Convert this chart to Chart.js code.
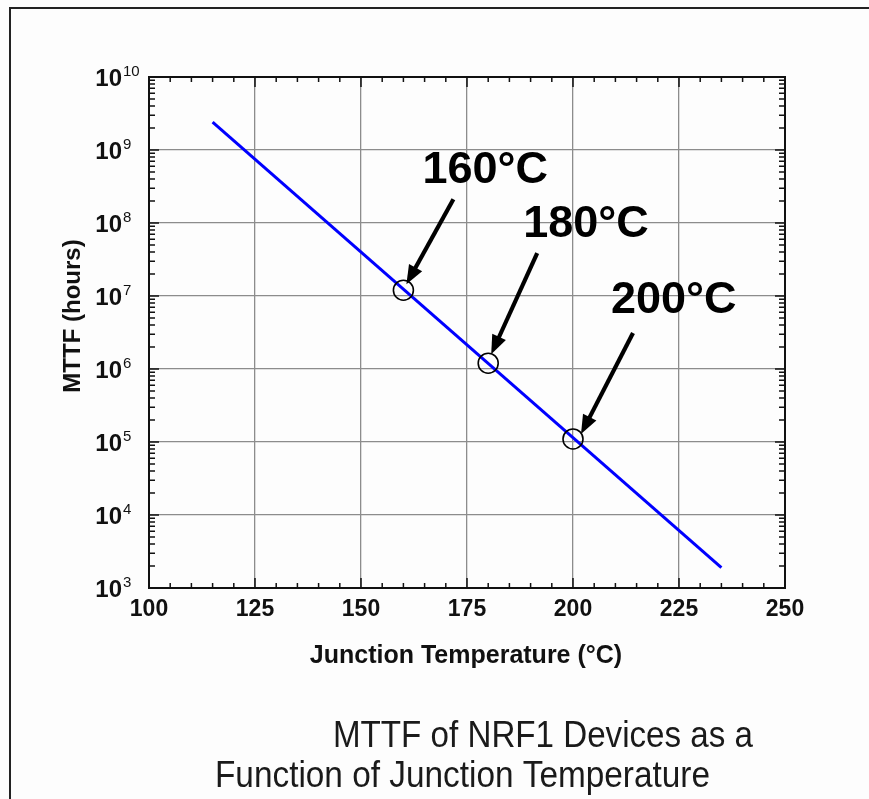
<!DOCTYPE html>
<html>
<head>
<meta charset="utf-8">
<title>MTTF of NRF1 Devices</title>
<script src="https://cdn.jsdelivr.net/npm/chart.js@4.4.1/dist/chart.umd.min.js"></script>
<style>
  html, body { margin: 0; padding: 0; background: #fdfdfd; }
  canvas { display: block; }
</style>
</head>
<body>
<canvas id="mttfChart" width="869" height="799"></canvas>
<script>
// MTTF fit line (junction temperature in °C, MTTF in hours)
const fitTemp = [115, 235];
const fitMttf = [2.4e9, 1.9e3];

// marked operating points
const markTemp = [160, 180, 200];
const markMttf = [1.2e7, 1.2e6, 1.1e5];
const markLabels = ['160°C', '180°C', '200°C'];

// axis ticks
const tempTicks = [100, 125, 150, 175, 200, 225, 250];
const mttfTicks = [1e3, 1e4, 1e5, 1e6, 1e7, 1e8, 1e9, 1e10];

const FONT = '"Liberation Sans", Arial, Helvetica, sans-serif';

// label/arrow offsets from each marker centre: [textDx, textDy, tailDx, tailDy, tipDx, tipDy]
const callouts = [
    [19, -107, 50, -91, 3, -6],
    [35, -126, 49, -110, 3, -9],
    [38, -126, 60, -106, 8, -5]
];

function drawArrow(ctx, x0, y0, x1, y1) {
    const ang = Math.atan2(y1 - y0, x1 - x0);
    const headLen = 19, headHalf = 7.5;
    const bx = x1 - headLen * Math.cos(ang);
    const by = y1 - headLen * Math.sin(ang);
    ctx.beginPath();
    ctx.moveTo(x0, y0);
    ctx.lineTo(bx + 2 * Math.cos(ang), by + 2 * Math.sin(ang));
    ctx.lineWidth = 4.2;
    ctx.lineCap = 'butt';
    ctx.stroke();
    ctx.beginPath();
    ctx.moveTo(x1, y1);
    ctx.lineTo(bx - headHalf * Math.sin(ang), by + headHalf * Math.cos(ang));
    ctx.lineTo(bx + headHalf * Math.sin(ang), by - headHalf * Math.cos(ang));
    ctx.closePath();
    ctx.fill();
}

const decor = {
    id: 'decor',
    beforeDraw(chart) {
        const ctx = chart.ctx;
        ctx.save();
        ctx.fillStyle = '#fdfdfd';
        ctx.fillRect(0, 0, chart.width, chart.height);
        // page frame (top and left edges)
        ctx.strokeStyle = '#222';
        ctx.lineWidth = 2;
        ctx.beginPath();
        ctx.moveTo(10, chart.height);
        ctx.lineTo(10, 8);
        ctx.lineTo(chart.width, 8);
        ctx.stroke();
        ctx.restore();
    },
    afterDraw(chart) {
        const { ctx, chartArea: a, scales: { x, y } } = chart;
        ctx.save();
        ctx.strokeStyle = '#111';
        ctx.fillStyle = '#111';
        ctx.lineWidth = 1.5;

        // inward tick marks, x every 5 degrees
        ctx.beginPath();
        for (let t = x.min; t <= x.max; t += 5) {
            const px = x.getPixelForValue(t);
            const len = t % 25 === 0 ? 10 : 5;
            ctx.moveTo(px, a.bottom); ctx.lineTo(px, a.bottom - len);
            ctx.moveTo(px, a.top); ctx.lineTo(px, a.top + len);
        }
        // log minor ticks on y
        mttfTicks.forEach((d, i) => {
            const last = i === mttfTicks.length - 1;
            for (let k = 1; k <= (last ? 1 : 9); k++) {
                const py = y.getPixelForValue(k * d);
                const len = k === 1 ? 10 : 6;
                ctx.moveTo(a.left, py); ctx.lineTo(a.left + len, py);
                ctx.moveTo(a.right, py); ctx.lineTo(a.right - len, py);
            }
        });
        ctx.stroke();

        // plot frame
        ctx.lineWidth = 2;
        ctx.strokeRect(a.left, a.top, a.right - a.left, a.bottom - a.top);

        // x tick labels
        ctx.font = 'bold 23px ' + FONT;
        ctx.textAlign = 'center';
        ctx.textBaseline = 'middle';
        tempTicks.forEach(t => ctx.fillText(String(t), x.getPixelForValue(t), 610));

        // y tick labels as powers of ten
        ctx.textBaseline = 'alphabetic';
        mttfTicks.forEach(v => {
            const py = y.getPixelForValue(v);
            ctx.font = 'bold 24px ' + FONT;
            ctx.textAlign = 'right';
            ctx.fillText('10', 122, py + 9);
            ctx.font = '15px ' + FONT;
            ctx.textAlign = 'left';
            ctx.fillText(String(Math.round(Math.log10(v))), 123, py - 1);
        });

        // axis titles
        ctx.font = 'bold 25px ' + FONT;
        ctx.textAlign = 'center';
        ctx.fillText('Junction Temperature (°C)', (a.left + a.right) / 2 - 1, 663);
        ctx.save();
        ctx.translate(80, 316);
        ctx.rotate(-Math.PI / 2);
        ctx.font = 'bold 24px ' + FONT;
        ctx.fillText('MTTF (hours)', 0, 0);
        ctx.restore();

        // callouts for the marked temperatures
        ctx.fillStyle = '#000';
        ctx.strokeStyle = '#000';
        markTemp.forEach((t, i) => {
            const cx = x.getPixelForValue(t);
            const cy = y.getPixelForValue(markMttf[i]);
            const c = callouts[i];
            ctx.font = 'bold 45px ' + FONT;
            ctx.textAlign = 'left';
            ctx.fillText(markLabels[i], cx + c[0], cy + c[1]);
            drawArrow(ctx, cx + c[2], cy + c[3], cx + c[4], cy + c[5]);
        });

        // caption
        ctx.fillStyle = '#1a1a1a';
        ctx.font = '36px ' + FONT;
        ctx.textAlign = 'left';
        const captions = [
            ['MTTF of NRF1 Devices as a', 333, 747, 420],
            ['Function of Junction Temperature', 215, 787, 495]
        ];
        captions.forEach(([txt, lx, by, w]) => {
            const sx = w / ctx.measureText(txt).width;
            ctx.save();
            ctx.translate(lx, by);
            ctx.scale(sx, 1);
            ctx.fillText(txt, 0, 0);
            ctx.restore();
        });
        ctx.restore();
    }
};

new Chart(document.getElementById('mttfChart').getContext('2d'), {
    type: 'scatter',
    data: {
        datasets: [
            {
                data: fitTemp.map((t, i) => ({ x: t, y: fitMttf[i] })),
                showLine: true,
                borderColor: '#0000ff',
                borderWidth: 3,
                pointRadius: 0,
                order: 2
            },
            {
                data: markTemp.map((t, i) => ({ x: t, y: markMttf[i] })),
                showLine: false,
                pointRadius: 10,
                pointHoverRadius: 10,
                pointBorderColor: '#000',
                pointBackgroundColor: 'rgba(0,0,0,0)',
                pointBorderWidth: 1.6,
                order: 1
            }
        ]
    },
    options: {
        responsive: false,
        animation: false,
        events: [],
        layout: { padding: { left: 149, top: 77, right: 84, bottom: 211 } },
        plugins: {
            legend: { display: false },
            tooltip: { enabled: false }
        },
        scales: {
            x: {
                type: 'linear',
                min: 100,
                max: 250,
                afterBuildTicks: s => { s.ticks = tempTicks.map(v => ({ value: v })); },
                ticks: { display: false },
                grid: { color: '#8c8c8c', lineWidth: 1.3, drawTicks: false },
                border: { display: false }
            },
            y: {
                type: 'logarithmic',
                min: 1e3,
                max: 1e10,
                afterBuildTicks: s => { s.ticks = mttfTicks.map(v => ({ value: v })); },
                ticks: { display: false },
                grid: { color: '#8c8c8c', lineWidth: 1.3, drawTicks: false },
                border: { display: false }
            }
        }
    },
    plugins: [decor]
});
</script>
</body>
</html>
